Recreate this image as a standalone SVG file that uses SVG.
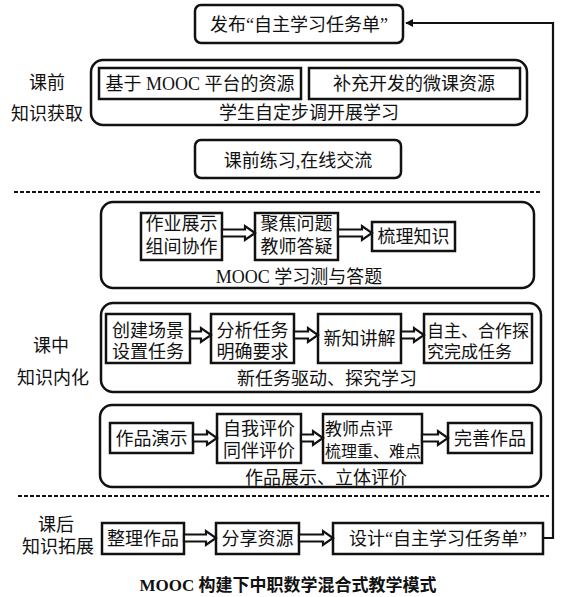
<svg xmlns="http://www.w3.org/2000/svg" width="567" height="597" viewBox="0 0 567 597">
<style>
text{font-family:"Liberation Serif","Noto Sans CJK SC",serif;font-size:18px;fill:#111;}
.m{text-anchor:middle;}
.s{text-anchor:start;}
.grp{fill:none;stroke:#111;stroke-width:2.5;}
.box{fill:#fff;stroke:#111;stroke-width:2.5;}
.ba{fill:#fff;stroke:#111;stroke-width:2.2;stroke-linejoin:miter;}
.dash{stroke:#111;stroke-width:2;stroke-dasharray:4 2;fill:none;}
.line{fill:none;stroke:#111;stroke-width:2.2;}
.cap{font-weight:bold;font-size:17px;}
</style>
<defs>
<marker id="ah" viewBox="0 0 10 10" refX="9" refY="5" markerWidth="8" markerHeight="8" markerUnits="userSpaceOnUse" orient="auto">
<path d="M0,0 L10,5 L0,10 z" fill="#111"/>
</marker>
</defs>

<g id="side-labels">
<text class="m" x="47" y="89">课前</text>
<text class="m" x="47" y="120">知识获取</text>
<text class="m" x="51" y="352">课中</text>
<text class="m" x="53" y="384">知识内化</text>
<text class="m" x="56" y="531">课后</text>
<text class="m" x="58" y="553">知识拓展</text>
</g>

<g id="separators">
<line class="dash" x1="14" y1="192" x2="542" y2="192"/>
<line class="dash" x1="18" y1="496" x2="549" y2="496"/>
</g>

<g id="n-publish">
<rect class="box" x="195" y="5" width="208" height="38" rx="6"/>
<text class="m" x="299" y="31">发布“自主学习任务单”</text>
</g>

<g id="n-prelearn">
<rect class="grp" x="91" y="60" width="436" height="65" rx="12"/>
<text class="m" x="309" y="119">学生自定步调开展学习</text>
</g>
<g id="n-mooc-res">
<rect class="box" x="99" y="68" width="202" height="31"/>
<text class="m" x="200" y="90">基于 MOOC 平台的资源</text>
</g>
<g id="n-micro-res">
<rect class="box" x="309" y="68" width="211" height="31"/>
<text class="m" x="414" y="90">补充开发的微课资源</text>
</g>

<g id="n-practice">
<rect class="box" x="195" y="140" width="206" height="38" rx="6"/>
<text class="m" x="298" y="167">课前练习,在线交流</text>
</g>

<g id="n-groupA">
<rect class="grp" x="101" y="202" width="433" height="86" rx="12"/>
<text class="m" x="299" y="283">MOOC 学习测与答题</text>
</g>
<g id="n-a1">
<rect class="box" x="141" y="213" width="81" height="47"/>
<text class="m" x="181.5" y="230">作业展示</text>
<text class="m" x="181.5" y="253">组间协作</text>
</g>
<g id="n-a2">
<rect class="box" x="255" y="213" width="83" height="47"/>
<text class="m" x="296.5" y="230">聚焦问题</text>
<text class="m" x="296.5" y="253">教师答疑</text>
</g>
<g id="n-a3">
<rect class="box" x="372" y="222" width="83" height="29"/>
<text class="m" x="413.5" y="243">梳理知识</text>
</g>

<g id="n-groupB">
<rect class="grp" x="101" y="303" width="440" height="89" rx="12"/>
<text class="m" x="327" y="385">新任务驱动、探究学习</text>
</g>
<g id="n-b1">
<rect class="box" x="106" y="314" width="84" height="49"/>
<text class="m" x="148" y="337">创建场景</text>
<text class="m" x="148" y="358">设置任务</text>
</g>
<g id="n-b2">
<rect class="box" x="211" y="314" width="83" height="49"/>
<text class="m" x="252.5" y="337">分析任务</text>
<text class="m" x="252.5" y="358">明确要求</text>
</g>
<g id="n-b3">
<rect class="box" x="318" y="314" width="83" height="49"/>
<text class="m" x="359.5" y="345">新知讲解</text>
</g>
<g id="n-b4">
<rect class="box" x="424" y="314" width="108" height="49"/>
<text class="s" x="427" y="337" style="font-size:17px">自主、合作探</text>
<text class="s" x="427" y="358" style="font-size:17px">究完成任务</text>
</g>

<g id="n-groupC">
<rect class="grp" x="100" y="405" width="441" height="82" rx="12"/>
<text class="m" x="326" y="484">作品展示、立体评价</text>
</g>
<g id="n-c1">
<rect class="box" x="110" y="423" width="83" height="30"/>
<text class="m" x="151.5" y="445">作品演示</text>
</g>
<g id="n-c2">
<rect class="box" x="217" y="414" width="84" height="49"/>
<text class="m" x="259" y="435">自我评价</text>
<text class="m" x="259" y="457">同伴评价</text>
</g>
<g id="n-c3">
<rect class="box" x="323" y="414" width="99" height="49"/>
<text class="s" x="325" y="435" style="font-size:17px">教师点评</text>
<text class="s" x="325" y="457" style="font-size:16px">梳理重、难点</text>
</g>
<g id="n-c4">
<rect class="box" x="448" y="423" width="84" height="30"/>
<text class="m" x="490" y="445">完善作品</text>
</g>

<g id="n-d1">
<rect class="box" x="102" y="523" width="82" height="31"/>
<text class="m" x="143" y="545">整理作品</text>
</g>
<g id="n-d2">
<rect class="box" x="216" y="523" width="83" height="31"/>
<text class="m" x="257.5" y="545">分享资源</text>
</g>
<g id="n-d3">
<rect class="box" x="333" y="523" width="210" height="31"/>
<text class="m" x="438" y="545">设计“自主学习任务单”</text>
</g>

<g id="connectors">
<polygon class="ba" points="222,229.5 245,229.5 245,226 255,233 245,240 245,236.5 222,236.5"/>
<polygon class="ba" points="338,229.5 362,229.5 362,226 372,233 362,240 362,236.5 338,236.5"/>
<polygon class="ba" points="190,331.5 201,331.5 201,328 211,335 201,342 201,338.5 190,338.5"/>
<polygon class="ba" points="294,331.5 308,331.5 308,328 318,335 308,342 308,338.5 294,338.5"/>
<polygon class="ba" points="401,331.5 414,331.5 414,328 424,335 414,342 414,338.5 401,338.5"/>
<polygon class="ba" points="193,434.5 207,434.5 207,431 217,438 207,445 207,441.5 193,441.5"/>
<polygon class="ba" points="301,434.5 313,434.5 313,431 323,438 313,445 313,441.5 301,441.5"/>
<polygon class="ba" points="422,434.5 438,434.5 438,431 448,438 438,445 438,441.5 422,441.5"/>
<polygon class="ba" points="184,534.5 206,534.5 206,531 216,538 206,545 206,541.5 184,541.5"/>
<polygon class="ba" points="299,534.5 323,534.5 323,531 333,538 323,545 323,541.5 299,541.5"/>
<polyline class="line" points="543,538 553,538 553,23 406,23" marker-end="url(#ah)"/>
</g>

<g id="caption">
<text class="m cap" x="288" y="591">MOOC 构建下中职数学混合式教学模式</text>
</g>
</svg>
